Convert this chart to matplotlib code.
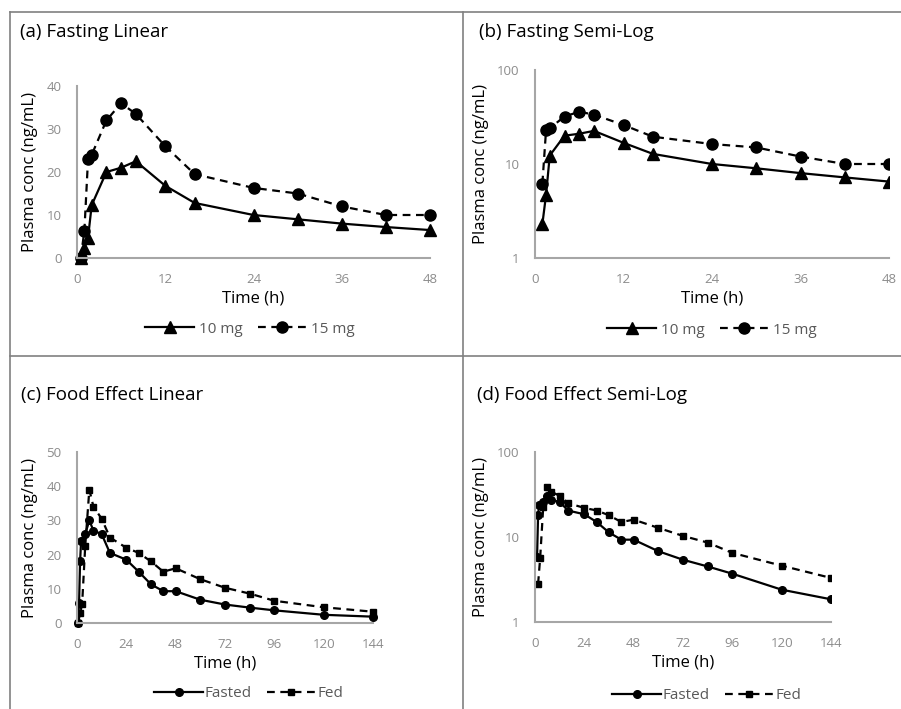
import numpy as np
import matplotlib
matplotlib.use("Agg")
import matplotlib.pyplot as plt
from matplotlib.lines import Line2D

plt.rcParams['font.family'] = ['Open Sans', 'DejaVu Sans']

# fasting study (10 mg vs 15 mg), times in hours
fast_time = [0.5, 1, 1.5, 2, 4, 6, 8, 12, 16, 24, 30, 36, 42, 48]
conc_10mg = [0, 2.3, 4.7, 12.3, 20, 21, 22.5, 16.8, 12.8, 10, 9, 8, 7.2, 6.5]
conc_15mg = [0, 6.2, 23, 24, 32, 36, 33.5, 26, 19.5, 16.3, 15, 12, 10, 10]

# food effect study
fasted_time = [0.5, 1, 1.5, 2, 4, 6, 8, 12, 16, 24, 30, 36, 42, 48, 60, 72, 84, 96, 120, 144]
fasted_conc = [0, 5.8, 18, 24, 26, 30, 27, 26, 20.5, 18.5, 15, 11.3, 9.3, 9.3, 6.8, 5.4, 4.5, 3.7, 2.4, 1.85]
fed_time = [0.5, 1.5, 2.5, 4, 6, 8, 12, 16, 24, 30, 36, 42, 48, 60, 72, 84, 96, 120, 144]
fed_conc = [0, 2.8, 5.6, 22.5, 39, 34, 30.5, 25, 22, 20.5, 18, 15, 16, 12.8, 10.3, 8.6, 6.5, 4.6, 3.3]

W, H = 901, 709
fig = plt.figure(figsize=(W / 100, H / 100), dpi=100)
fig.patch.set_facecolor('white')

SPINE = '#a6a6a6'
TICK = '#8c8c8c'


def px_axes(left, right, top, bottom):
    return fig.add_axes([left / W, 1 - bottom / H, (right - left) / W, (bottom - top) / H])


def style(ax):
    for s in ['top', 'right']:
        ax.spines[s].set_visible(False)
    for s in ['left', 'bottom']:
        ax.spines[s].set_color(SPINE)
        ax.spines[s].set_linewidth(1.5)
    ax.tick_params(length=0, labelsize=9.5, labelcolor=TICK, pad=11)
    ax.set_xlabel('Time (h)', fontsize=12, labelpad=3)
    ax.set_ylabel('Plasma conc (ng/mL)', fontsize=12, labelpad=6)
    ax.patch.set_alpha(0)


def pos(v):
    return [x if x > 0 else np.nan for x in v]


# frame lines around the panels
fig.add_artist(Line2D([10 / W, 1], [1 - 12 / H] * 2, color='#808080', lw=1.2))
fig.add_artist(Line2D([10 / W] * 2, [0, 1 - 12 / H], color='#808080', lw=1.2))
fig.add_artist(Line2D([463 / W] * 2, [0, 1 - 12 / H], color='#808080', lw=1.2))
fig.add_artist(Line2D([10 / W, 1], [1 - 356 / H] * 2, color='#808080', lw=1.2))

dash = (0, (3.5, 2.5))
leg_kw = dict(loc='upper center', ncol=2, frameon=False, fontsize=11,
              labelcolor='#595959', handlelength=3.2, columnspacing=1.0)

# (a) fasting linear
ax = px_axes(77, 430, 86, 258)
ax.plot(fast_time, conc_10mg, '-', color='black', lw=1.6, marker='^', ms=8, label='10 mg', clip_on=False)
ax.plot(fast_time, conc_15mg, color='black', ls=dash, lw=1.6, marker='o', ms=8, label='15 mg', clip_on=False)
ax.set_xlim(0, 48)
ax.set_ylim(0, 40)
ax.set_xticks([0, 12, 24, 36, 48])
ax.set_yticks([0, 10, 20, 30, 40])
style(ax)
ax.legend(bbox_to_anchor=(0.49, -0.29), handletextpad=0.3, **leg_kw)
fig.text(20 / W, 1 - 32 / H, '(a) Fasting Linear', fontsize=13.5, va='center')

# (b) fasting semi-log
ax = px_axes(535, 889, 70, 258)
ax.plot(fast_time, pos(conc_10mg), '-', color='black', lw=1.6, marker='^', ms=8, label='10 mg')
ax.plot(fast_time, pos(conc_15mg), color='black', ls=dash, lw=1.6, marker='o', ms=8, label='15 mg')
ax.set_yscale('log')
ax.set_xlim(0, 48)
ax.set_ylim(1, 100)
ax.set_xticks([0, 12, 24, 36, 48])
ax.set_yticks([1, 10, 100])
ax.set_yticklabels(['1', '10', '100'])
ax.minorticks_off()
style(ax)
ax.legend(bbox_to_anchor=(0.5, -0.27), handletextpad=0.3, **leg_kw)
fig.text(479 / W, 1 - 32 / H, '(b) Fasting Semi-Log', fontsize=13.5, va='center')

# (c) food effect linear
ax = px_axes(77, 373, 452, 623)
ax.plot(fasted_time, fasted_conc, '-', color='black', lw=1.6, marker='o', ms=5.5, label='Fasted', clip_on=False)
ax.plot(fed_time, fed_conc, color='black', ls=dash, lw=1.6, marker='s', ms=5, label='Fed', clip_on=False)
ax.set_xlim(0, 144)
ax.set_ylim(0, 50)
ax.set_xticks([0, 24, 48, 72, 96, 120, 144])
ax.set_yticks([0, 10, 20, 30, 40, 50])
style(ax)
ax.legend(bbox_to_anchor=(0.58, -0.29), handletextpad=0.1, **leg_kw)
fig.text(21 / W, 1 - 395 / H, '(c) Food Effect Linear', fontsize=13.5, va='center')

# (d) food effect semi-log
ax = px_axes(535, 831, 452, 622)
ax.plot(fasted_time, pos(fasted_conc), '-', color='black', lw=1.6, marker='o', ms=5.5, label='Fasted')
ax.plot(fed_time, pos(fed_conc), color='black', ls=dash, lw=1.6, marker='s', ms=5, label='Fed')
ax.set_yscale('log')
ax.set_xlim(0, 144)
ax.set_ylim(1, 100)
ax.set_xticks([0, 24, 48, 72, 96, 120, 144])
ax.set_yticks([1, 10, 100])
ax.set_yticklabels(['1', '10', '100'])
ax.minorticks_off()
style(ax)
ax.legend(bbox_to_anchor=(0.58, -0.31), handletextpad=0.1, **leg_kw)
fig.text(477 / W, 1 - 395 / H, '(d) Food Effect Semi-Log', fontsize=13.5, va='center')

fig.savefig('out.png', dpi=100)
